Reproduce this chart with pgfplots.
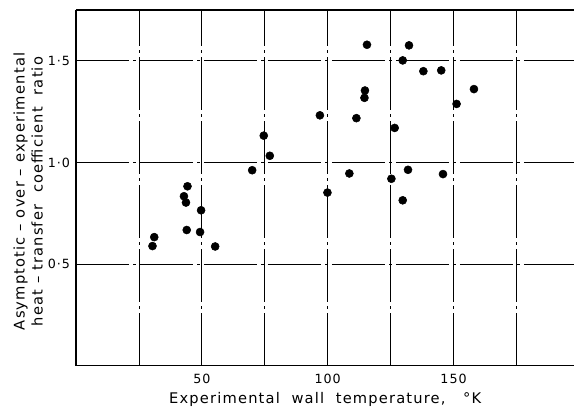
\documentclass[border=0pt]{standalone}
\usepackage{fontspec}
\setmainfont{DejaVu Sans}
\newfontfamily\lbl[LetterSpace=8]{DejaVu Sans}
\usepackage{pgfplots}
\pgfplotsset{compat=1.18}

\begin{document}
\begin{tikzpicture}
\begin{axis}[
    scale only axis,
    width=374pt, height=267pt,
    xmin=0, xmax=198,
    ymin=0, ymax=1.75,
    axis y line*=left,
    axis x line*=box,
    axis line style={line width=0.9pt},
    xtick={50,100,150},
    minor xtick={25,75,125,175},
    ytick={0.5,1.0,1.5},
    yticklabels={0·5,1·0,1·5},
    major tick length=0pt, minor tick length=0pt,
    grid=both,
    major grid style={black, line width=0.5pt, dash pattern=on 40pt off 3pt on 2pt off 3pt},
    minor grid style={black, line width=0.5pt, dash pattern=on 40pt off 3pt on 2pt off 3pt},
    tick label style={font=\lbl\fontsize{9.5}{11}\selectfont},
    /pgf/number format/assume math mode=true,
    xticklabel style={yshift=-3pt},
    yticklabel style={xshift=-1pt},
    xlabel={Experimental\ \ wall\ \ temperature,\ \ \ °K},
    ylabel={Asymptotic – over – experimental\\heat – transfer\ \ coefficient\ \ ratio},
    label style={font=\lbl\fontsize{11}{13.5}\selectfont},
    xlabel style={yshift=1pt},
    ylabel style={align=center, at={(axis description cs:-0.057,0.49)}, anchor=south},
]
\addplot[only marks, mark=*, mark size=3pt, black] coordinates {
    (77.0,1.033) (70.0,0.962) (44.3,0.883) (42.9,0.834) (43.7,0.803)
    (49.7,0.765) (44.0,0.668) (49.3,0.658) (31.1,0.633) (30.4,0.589)
    (55.3,0.587) (74.6,1.132)
    (115.6,1.579) (132.3,1.576) (129.8,1.502) (138.0,1.449) (145.1,1.453)
    (158.1,1.361) (114.8,1.354) (114.6,1.318) (151.2,1.288) (96.9,1.232)
    (111.4,1.218) (126.6,1.170) (131.9,0.964) (108.6,0.946) (145.8,0.943)
    (125.3,0.920) (99.9,0.852) (129.8,0.814)
};
\coordinate (ll) at (rel axis cs:0,0);
\coordinate (ur) at (rel axis cs:1,1);
\end{axis}
\path ([shift={(-57pt,-31.5pt)}]ll) ([yshift=7.5pt]ur);
\end{tikzpicture}
\end{document}
